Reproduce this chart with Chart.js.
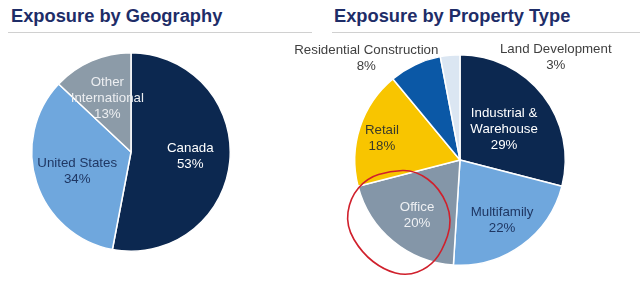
<!DOCTYPE html>
<html><head><meta charset="utf-8">
<script src="https://cdn.jsdelivr.net/npm/chart.js@4.4.1/dist/chart.umd.min.js"></script>
<style>
html,body{margin:0;padding:0;background:#fff;width:640px;height:295px;overflow:hidden;font-family:"Liberation Sans",Arial,sans-serif;}
.title{position:absolute;top:7px;font-weight:bold;font-size:18.3px;line-height:18px;color:#1e2d68;white-space:nowrap;}
.rule{position:absolute;top:32px;height:1px;background:#d0d0d0;}
canvas{position:absolute;left:0;top:0;}
</style></head><body>
<div class="title" style="left:11px">Exposure by Geography</div>
<div class="rule" style="left:8px;width:304px"></div>
<div class="title" style="left:334px">Exposure by Property Type</div>
<div class="rule" style="left:332px;width:308px"></div>
<canvas id="geo" width="640" height="295"></canvas>
<canvas id="prop" width="640" height="295"></canvas>
<script>
// ---- data ----
const geoCategories = [["Canada"], ["United States"], ["Other", "International"]];
const geoValues = [53, 34, 13];
const propCategories = [["Industrial &", "Warehouse"], ["Multifamily"], ["Office"], ["Retail"], ["Residential Construction"], ["Land Development"]];
const propValues = [29, 22, 20, 18, 8, 3];

// ---- styles ----
const geoColors = ['#0c2850', '#6fa7dd', '#8c9ba8'];
const geoTextColors = ['#ffffff', '#1f3763', '#eceef1'];
const geoLabelPos = [{r:0.6, oy:-1}, {r:0.57, oy:2}, {r:0.6, oy:1}];
const propColors = ['#0c2850', '#6fa7dd', '#8496a8', '#f8c500', '#0b58a6', '#dbe6f2'];
const propTextColors = ['#ffffff', '#1f3763', '#eef0f3', '#3a3a2a', '#404040', '#404040'];
const propLabelPos = [{r:0.53, oy:4}, {r:0.68, oy:2}, {r:0.64, oy:3}, {r:0.76, ox:-2, oy:3}, {dx:-0.89, dy:-0.97}, {dx:0.91, dy:-0.98}];

const sliceLabels = {
  id: 'sliceLabels',
  afterDatasetsDraw(chart, args, opts) {
    const ctx = chart.ctx;
    const meta = chart.getDatasetMeta(0);
    const ds = chart.data.datasets[0];
    ctx.save();
    ctx.font = '13.3px "Liberation Sans", Arial, sans-serif';
    ctx.textAlign = 'center';
    ctx.textBaseline = 'middle';
    meta.data.forEach((arc, i) => {
      const p = arc.getProps(['x', 'y', 'startAngle', 'endAngle', 'outerRadius'], true);
      const pos = opts.pos[i];
      let cx, cy;
      if (pos.r !== undefined) {
        const a = (p.startAngle + p.endAngle) / 2;
        cx = p.x + Math.cos(a) * p.outerRadius * pos.r;
        cy = p.y + Math.sin(a) * p.outerRadius * pos.r;
      } else {
        cx = p.x + pos.dx * p.outerRadius;
        cy = p.y + pos.dy * p.outerRadius;
      }
      cx += pos.ox || 0;
      cy += pos.oy || 0;
      const lab = chart.data.labels[i];
      const lines = [...(Array.isArray(lab) ? lab : [lab]), ds.data[i] + '%'];
      ctx.fillStyle = opts.colors[i];
      const lh = 16;
      const y0 = cy - (lines.length - 1) * lh / 2;
      lines.forEach((t, k) => ctx.fillText(t, cx, y0 + k * lh));
    });
    ctx.restore();
  }
};

const redLoop = {
  id: 'redLoop',
  afterDraw(chart) {
    const pts = [[415,170],[440,188],[453,220],[442,252],[428,268],[407,276],[384,270],[362,253],[346,226],[350,198],[367,178],[390,171]];
    const ctx = chart.ctx;
    ctx.save();
    ctx.strokeStyle = '#d0202c';
    ctx.lineWidth = 1.6;
    ctx.beginPath();
    const n = pts.length;
    const mid = (a, b) => [(a[0] + b[0]) / 2, (a[1] + b[1]) / 2];
    let m0 = mid(pts[n - 1], pts[0]);
    ctx.moveTo(m0[0], m0[1]);
    for (let i = 0; i < n; i++) {
      const m = mid(pts[i], pts[(i + 1) % n]);
      ctx.quadraticCurveTo(pts[i][0], pts[i][1], m[0], m[1]);
    }
    ctx.stroke();
    ctx.restore();
  }
};

function makePie(id, labels, values, colors, textColors, pos, padding, extra) {
  return new Chart(document.getElementById(id), {
    type: 'pie',
    data: { labels: labels, datasets: [{ data: values, backgroundColor: colors, borderColor: '#ffffff', borderWidth: 1.5 }] },
    options: {
      responsive: false,
      animation: false,
      events: [],
      layout: { padding: padding },
      plugins: {
        legend: { display: false },
        tooltip: { enabled: false },
        sliceLabels: { colors: textColors, pos: pos }
      }
    },
    plugins: [sliceLabels].concat(extra || [])
  });
}

makePie('geo', geoCategories, geoValues, geoColors, geoTextColors, geoLabelPos, {left:31, right:409, top:52, bottom:43});
makePie('prop', propCategories, propValues, propColors, propTextColors, propLabelPos, {left:354, right:74, top:54, bottom:29}, [redLoop]);
</script>
</body></html>
